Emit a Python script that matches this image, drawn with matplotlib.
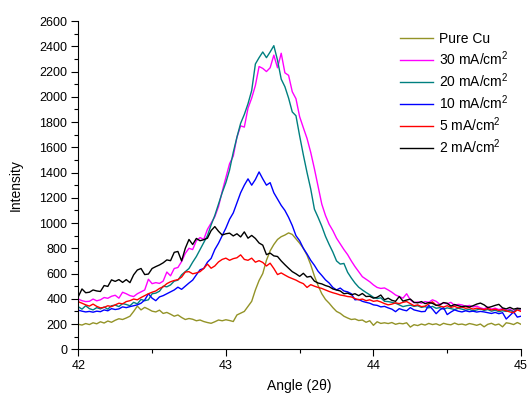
import matplotlib
matplotlib.use("Agg")
import matplotlib.pyplot as plt
import numpy as np
from matplotlib.ticker import MultipleLocator

plt.rcParams["font.family"] = ["Liberation Sans", "DejaVu Sans"]
plt.rcParams["mathtext.fontset"] = "custom"
plt.rcParams["mathtext.rm"] = "Liberation Sans"

# 2theta grid of the scan, 42 -> 45 deg
angle_start, angle_step, n_points = 42.0, 0.025, 121

pure_cu = [
    198, 192, 204, 196, 210, 202, 218, 208, 224, 214,
    230, 242, 236, 248, 262, 300, 342, 312, 332, 318,
    302, 296, 310, 284, 292, 278, 262, 272, 252, 236,
    244, 238, 226, 232, 220, 212, 206, 218, 232, 226,
    234, 228, 220, 272, 286, 300, 340, 380, 470, 545,
    600, 705, 780, 830, 870, 892, 905, 922, 910, 875,
    840, 800, 745, 670, 580, 505, 440, 395, 365, 330,
    300, 285, 262, 248, 236, 240, 228, 232, 214, 226,
    190, 218, 205, 210, 204, 212, 198, 206, 202, 210,
    176, 195, 188, 200, 192, 205, 196, 202, 190, 206,
    198, 194, 208, 196, 200, 192, 204, 198, 190, 200,
    178, 198, 206, 192, 200, 178, 210, 205, 196, 212,
    198,
]

ma30 = [
    398, 385, 378, 380, 398, 384, 392, 410, 404, 420,
    428, 405, 452, 440, 425, 418, 440, 455, 470, 555,
    520, 528, 522, 540, 612, 582, 640, 648, 695, 760,
    800, 790, 860, 885, 870, 950, 1000, 1050, 1130, 1250,
    1360, 1470, 1530, 1680, 1770, 1760, 1910, 1990, 2090, 2240,
    2225, 2200, 2230, 2330, 2230, 2345, 2190, 2170, 2040, 1985,
    1842, 1755, 1670, 1560, 1430, 1290, 1150, 1060, 990, 940,
    880, 835, 790, 750, 700, 655, 615, 575, 555, 535,
    510, 490, 482, 486, 470, 452, 430, 418, 405, 440,
    392, 368, 375, 365, 378, 372, 392, 380, 356, 368,
    360, 372, 348, 356, 352, 340, 348, 335, 342, 328,
    320, 335, 318, 326, 315, 322, 308, 318, 300, 325,
    310,
]

ma20 = [
    337, 318, 345, 322, 312, 330, 320, 335, 318, 345,
    350, 338, 362, 355, 345, 372, 360, 395, 385, 392,
    440, 445, 460, 500, 495, 510, 540, 548, 590, 615,
    640, 690, 735, 790, 845, 900, 985, 1060, 1150, 1240,
    1320, 1420, 1560, 1680, 1790, 1860, 1945, 2050, 2260, 2310,
    2355, 2310, 2355, 2405, 2290, 2140, 2080, 1990, 1880, 1850,
    1690, 1540, 1400, 1270, 1110, 1045, 975, 895, 830, 770,
    700, 675, 680, 610, 565, 525, 492, 470, 450, 432,
    412, 402, 408, 380, 378, 372, 365, 352, 338, 345,
    350, 340, 345, 332, 338, 328, 340, 325, 330, 318,
    328, 322, 315, 325, 318, 310, 316, 305, 312, 320,
    308, 315, 302, 310, 298, 305, 300, 310, 296, 318,
    322,
]

ma10 = [
    310, 302, 296, 300, 294, 302, 298, 312, 305, 322,
    315, 320, 336, 330, 338, 345, 352, 365, 390, 440,
    405, 385, 415, 425, 440, 455, 470, 492, 475, 500,
    525, 548, 590, 630, 640, 690, 720, 790, 840, 900,
    960, 1030, 1080, 1160, 1240, 1300, 1350, 1300, 1345, 1405,
    1350, 1300, 1320, 1240, 1190, 1140, 1100, 1045, 980, 900,
    860, 800, 755, 705, 665, 618, 585, 550, 525, 490,
    470, 485, 462, 455, 440, 392, 395, 380, 372, 365,
    352, 348, 336, 340, 328, 318, 298, 322, 312, 305,
    330, 312, 305, 298, 300, 348, 318, 282, 312, 330,
    275, 295, 312, 302, 296, 305, 298, 302, 295, 300,
    296, 290, 284, 292, 282, 290, 240, 268, 296, 255,
    262,
]

ma5 = [
    377, 365, 352, 342, 358, 340, 328, 332, 345, 338,
    352, 365, 360, 378, 385, 398, 392, 410, 425, 440,
    452, 462, 482, 495, 520, 535, 545, 552, 572, 612,
    615, 598, 605, 615, 640, 675, 642, 660, 692, 712,
    722, 705, 718, 725, 748, 712, 705, 722, 690, 702,
    688, 660, 682, 640, 592, 605, 588, 572, 560, 548,
    532, 520, 490, 512, 500, 490, 482, 470, 458, 448,
    440, 430, 425, 418, 415, 402, 392, 398, 385, 392,
    380, 385, 375, 362, 352, 358, 368, 362, 372, 378,
    362, 345, 352, 338, 342, 360, 376, 350, 342, 335,
    345, 332, 340, 328, 335, 325, 330, 318, 326, 320,
    315, 322, 312, 318, 308, 315, 305, 296, 290, 312,
    300,
]

ma2 = [
    417, 478, 448, 452, 470, 462, 458, 505, 498, 550,
    538, 552, 530, 552, 528, 590, 628, 640, 592, 596,
    640, 655, 668, 685, 708, 702, 768, 775, 700, 800,
    870, 830, 878, 860, 868, 880, 940, 972, 935, 905,
    915, 920, 898, 915, 890, 930, 880, 902, 878, 842,
    825, 750, 762, 740, 735, 700, 670, 642, 615, 598,
    578, 602, 572, 578, 540, 525, 518, 505, 496, 478,
    470, 462, 440, 445, 432, 440, 425, 442, 418, 420,
    405, 412, 430, 392, 405, 388, 380, 418, 382, 390,
    398, 372, 368, 378, 362, 370, 364, 348, 352, 370,
    365, 342, 355, 345, 338, 342, 335, 345, 358, 366,
    352, 330, 338, 348, 356, 328, 320, 332, 318, 325,
    322,
]

labels = ["Pure Cu", "30 mA/cm$^\\mathregular{2}$", "20 mA/cm$^\\mathregular{2}$",
          "10 mA/cm$^\\mathregular{2}$", "5 mA/cm$^\\mathregular{2}$",
          "2 mA/cm$^\\mathregular{2}$"]
colors = ["#939327", "#ff00ff", "#008080", "#0000ff", "#ff0000", "#000000"]

angle = angle_start + angle_step * np.arange(n_points)
series = [pure_cu, ma30, ma20, ma10, ma5, ma2]

fig = plt.figure(figsize=(5.27, 3.95), dpi=100)
ax = fig.add_axes([0.1486, 0.1157, 0.840, 0.831])

for y, c, lab in zip(series, colors, labels):
    ax.plot(angle, y, color=c, lw=1.0, label=lab)

ax.set_xlim(42, 45)
ax.set_ylim(0, 2600)
ax.xaxis.set_major_locator(MultipleLocator(1))
ax.xaxis.set_minor_locator(MultipleLocator(0.5))
ax.yaxis.set_major_locator(MultipleLocator(200))
ax.yaxis.set_minor_locator(MultipleLocator(100))
ax.tick_params(which="major", direction="out", length=5, width=0.8, labelsize=9, pad=3)
ax.tick_params(which="minor", direction="out", length=3, width=0.8)
for s in ["top", "right"]:
    ax.spines[s].set_visible(False)
for s in ["left", "bottom"]:
    ax.spines[s].set_linewidth(0.8)

ax.set_xlabel("Angle (2θ)", fontsize=10, labelpad=5)
ax.set_ylabel("Intensity", fontsize=10, labelpad=12)

ax.legend(loc="upper left", bbox_to_anchor=(400 / 527, 1 - 32 / 395),
          bbox_transform=fig.transFigure, frameon=False, fontsize=10,
          handlelength=2.4, handletextpad=0.4, labelspacing=0.24,
          borderpad=0, borderaxespad=0)

fig.savefig("out.png", dpi=100)
